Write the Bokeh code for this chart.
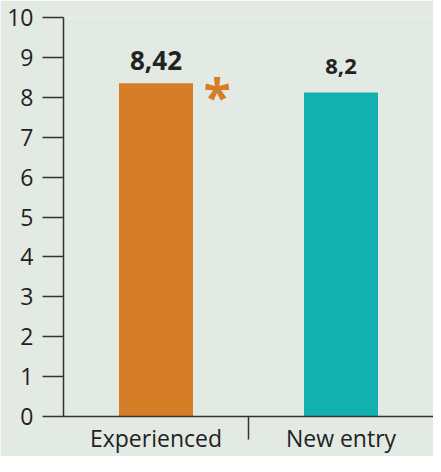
from bokeh.plotting import figure
from bokeh.models import ColumnDataSource, FixedTicker, Range1d
from bokeh.core.properties import value
from bokeh.embed import file_html
from bokeh.resources import INLINE

# ---- data ----
categories = ["Experienced", "New entry"]
scores = [8.35, 8.12]            # bar heights as drawn
score_labels = ["8,42", "8,2"]   # printed values
y_ticks = [0, 1, 2, 3, 4, 5, 6, 7, 8, 9, 10]
marked = [True, False]           # significance asterisk

# ---- styles ----
BG = "#e2eae3"
bar_colors = ["#d67d27", "#12b1b0"]
label_sizes = ["26px", "22px"]
label_offsets = [-23, -26]
FONT = "Open Sans"
INK = "#222222"
AXIS = "#333333"

xs = [i + 0.5 for i in range(len(categories))]

src = ColumnDataSource(dict(
    x=xs, top=scores, label=score_labels, color=bar_colors,
    size=label_sizes, dy=label_offsets,
))

p = figure(width=433, height=456, output_backend="svg", toolbar_location=None,
           x_range=Range1d(0, len(categories)), y_range=Range1d(0, 10),
           min_border_left=63, min_border_right=0, min_border_top=17, min_border_bottom=38)
p.background_fill_color = BG
p.border_fill_color = BG
p.outline_line_color = None
p.xgrid.visible = False
p.ygrid.visible = False

p.vbar(x="x", top="top", bottom=0, width=0.4, fill_color="color", line_color=None, source=src)

p.text(x="x", y="top", text="label", source=src, text_align="center", text_baseline="alphabetic",
       y_offset="dy", text_font=value(FONT), text_font_style="bold", text_font_size="size",
       text_color=INK)

ast_x = [x for x, m in zip(xs, marked) if m]
ast_y = [s for s, m in zip(scores, marked) if m]
p.text(x=ast_x, y=ast_y, text=["*"] * len(ast_x), text_align="center", text_baseline="middle",
       x_offset=61, y_offset=13, text_font=value(FONT), text_font_style="bold",
       text_font_size="50px", text_color=bar_colors[0])

# y axis
ya = p.yaxis[0]
ya.ticker = FixedTicker(ticks=y_ticks, minor_ticks=[])
ya.major_tick_out = 21
ya.major_tick_in = 0
ya.major_tick_line_color = AXIS
ya.major_tick_line_width = 1.5
ya.axis_line_color = AXIS
ya.axis_line_width = 1.5
ya.major_label_standoff = 9
ya.major_label_text_font = FONT
ya.major_label_text_font_size = "23px"
ya.major_label_text_color = INK

# x axis: labels at category centres, separator ticks between them
xa = p.xaxis[0]
xa.ticker = FixedTicker(ticks=xs, minor_ticks=[i for i in range(1, len(categories))])
xa.major_label_overrides = {x: c for x, c in zip(xs, categories)}
xa.major_tick_line_color = None
xa.major_tick_out = 0
xa.major_tick_in = 0
xa.minor_tick_out = 23
xa.minor_tick_in = 0
xa.minor_tick_line_color = AXIS
xa.minor_tick_line_width = 1.5
xa.axis_line_color = AXIS
xa.axis_line_width = 1.5
xa.major_label_standoff = -18
xa.major_label_text_font = FONT
xa.major_label_text_font_size = "23px"
xa.major_label_text_color = INK

open("out.html", "w").write(file_html(p, INLINE))
